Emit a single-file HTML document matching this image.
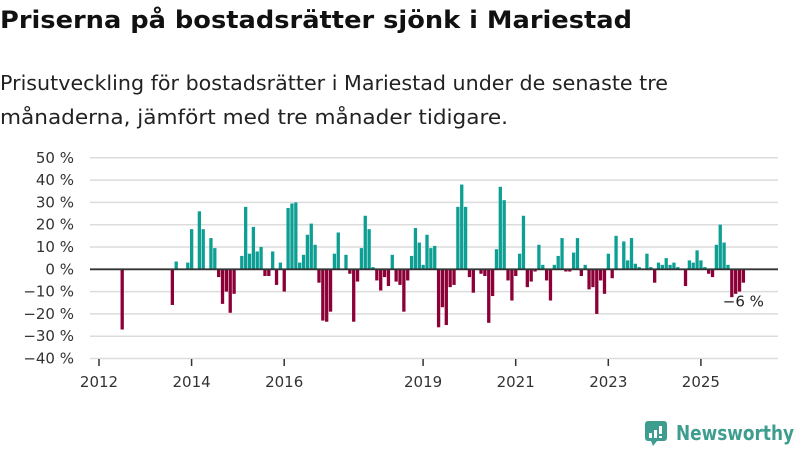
<!DOCTYPE html>
<html><head><meta charset="utf-8"><style>
html,body{margin:0;padding:0;background:#fff;}
svg{display:block;font-family:"DejaVu Sans","Liberation Sans",sans-serif;}
</style></head><body>
<svg id="chart" width="800" height="450" viewBox="0 0 800 450">
<text x="0" y="28" font-size="24" font-weight="bold" fill="#111" textLength="632" lengthAdjust="spacingAndGlyphs">Priserna på bostadsrätter sjönk i Mariestad</text>
<text x="0" y="90" font-size="20" fill="#222" textLength="668" lengthAdjust="spacingAndGlyphs">Prisutveckling för bostadsrätter i Mariestad under de senaste tre</text>
<text x="0" y="124" font-size="20" fill="#222" textLength="508" lengthAdjust="spacingAndGlyphs">månaderna, jämfört med tre månader tidigare.</text>
<g id="grid"></g><g id="bars"></g><g id="axes"></g>
<g>
<rect x="645" y="421" width="22" height="20" rx="3" fill="#3f9d8f"/>
<path d="M651 441 L653 446 L657 441 Z" fill="#3f9d8f"/>
<rect x="649" y="433" width="3" height="5" fill="#fff"/><rect x="654" y="430" width="3" height="8" fill="#fff"/><rect x="659" y="426" width="3" height="8" fill="#fff"/><rect x="659" y="436" width="3" height="2" fill="#fff"/>
<text x="676" y="440" font-size="20" font-weight="bold" fill="#3f9d8f" textLength="118" lengthAdjust="spacingAndGlyphs">Newsworthy</text>
</g>
</svg>
<script>
// monthly values starting Jan 2012 (null = no data)
const startYear = 2012;
const values = [
null,null,null,null,null,null,-27,null,null,null,null,null,
null,null,null,null,null,null,null,-16,3.5,null,null,3,
18,null,26,18,null,14,9.5,-3.5,-15.5,-10,-19.5,-11,
null,6,28,7,19,8,10,-3,-3,8,-7,3,
-10,27.5,29.5,30,3,6.5,15.5,20.5,11,-6,-23,-23.5,
-19,7,16.5,null,6.5,-2,-23.5,-5.5,9.5,24,18,1,
-5,-9.5,-3.5,-7.5,6.5,-5.5,-7,-19,-5,6,18.5,12,
2,15.5,9.5,10.5,-26,-17,-25,-8,-7,28,38,28,
-3.5,-10.5,null,-2,-3,-24,-12,9,37,31,-5,-14,
-3,7,24,-8,-5.5,-1,11,2,-5,-14,2,6,
14,-1,-1,7.5,14,-3,2,-9,-8,-20,-5,-11,
7,-4,15,null,12.5,4,14,2.5,1,null,7,1,
-6,3,2,5,2,3,1,null,-7.5,4,3,8.5,
4,1,-2,-3.5,11,20,12,2,-12.5,-11,-10,-6
];
const yTicks = [50,40,30,20,10,0,-10,-20,-30,-40];
const xTickYears = [2012,2014,2016,2019,2021,2023,2025];
const lastLabel = "−6 %";

const NS="http://www.w3.org/2000/svg";
const x0=99, monthW=46.3/12, yZero=269.3, pxPer=2.23;
function xScale(m){return x0+m*monthW;}
function yScale(v){return yZero - v*pxPer;}
function mk(tag,attrs,parent){const e=document.createElementNS(NS,tag);for(const k in attrs)e.setAttribute(k,attrs[k]);parent.appendChild(e);return e;}
const grid=document.getElementById('grid'),bars=document.getElementById('bars'),axes=document.getElementById('axes');
yTicks.forEach(t=>{
  const y=yScale(t);
  if(t!==0){const l=mk('line',{x1:90,x2:778,y1:y,y2:y,stroke:'#dcdcdc','stroke-width':1.5},grid);
  
  }
  const tx=mk('text',{x:74,y:y+5,'font-size':15,'text-anchor':'end',fill:'#333'},axes);
  tx.textContent=(t<0?'−'+(-t):t)+' %';
  
  
});
values.forEach((v,i)=>{
  if(v===null)return;
  const x=xScale(i)-1.6, y1=yScale(Math.max(v,0)), y2=yScale(Math.min(v,0));
  const r=mk('rect',{x:x,y:y1,width:3.3,height:Math.max(y2-y1,0.5),fill:v>=0?'#0e9f94':'#8c0038'},bars);
  
  
});
const zl=mk('line',{x1:90,x2:778,y1:yZero,y2:yZero,stroke:'#333','stroke-width':1.8},axes);


xTickYears.forEach(yr=>{
  const x=xScale((yr-startYear)*12);
  const tk=mk('line',{x1:x,x2:x,y1:359,y2:366,stroke:'#333','stroke-width':1.5},axes);
  
  
  const tx=mk('text',{x:x,y:387,'font-size':15,'text-anchor':'middle',fill:'#333'},axes);
  tx.textContent=yr;
  
  
});
const li=values.length-1;
const lb=mk('text',{x:xScale(li),y:yScale(values[li])+24,'font-size':15,'text-anchor':'middle',fill:'#222',stroke:'#fff','stroke-width':3,'paint-order':'stroke'},axes);
lb.textContent=lastLabel;


</script>
</body></html>
